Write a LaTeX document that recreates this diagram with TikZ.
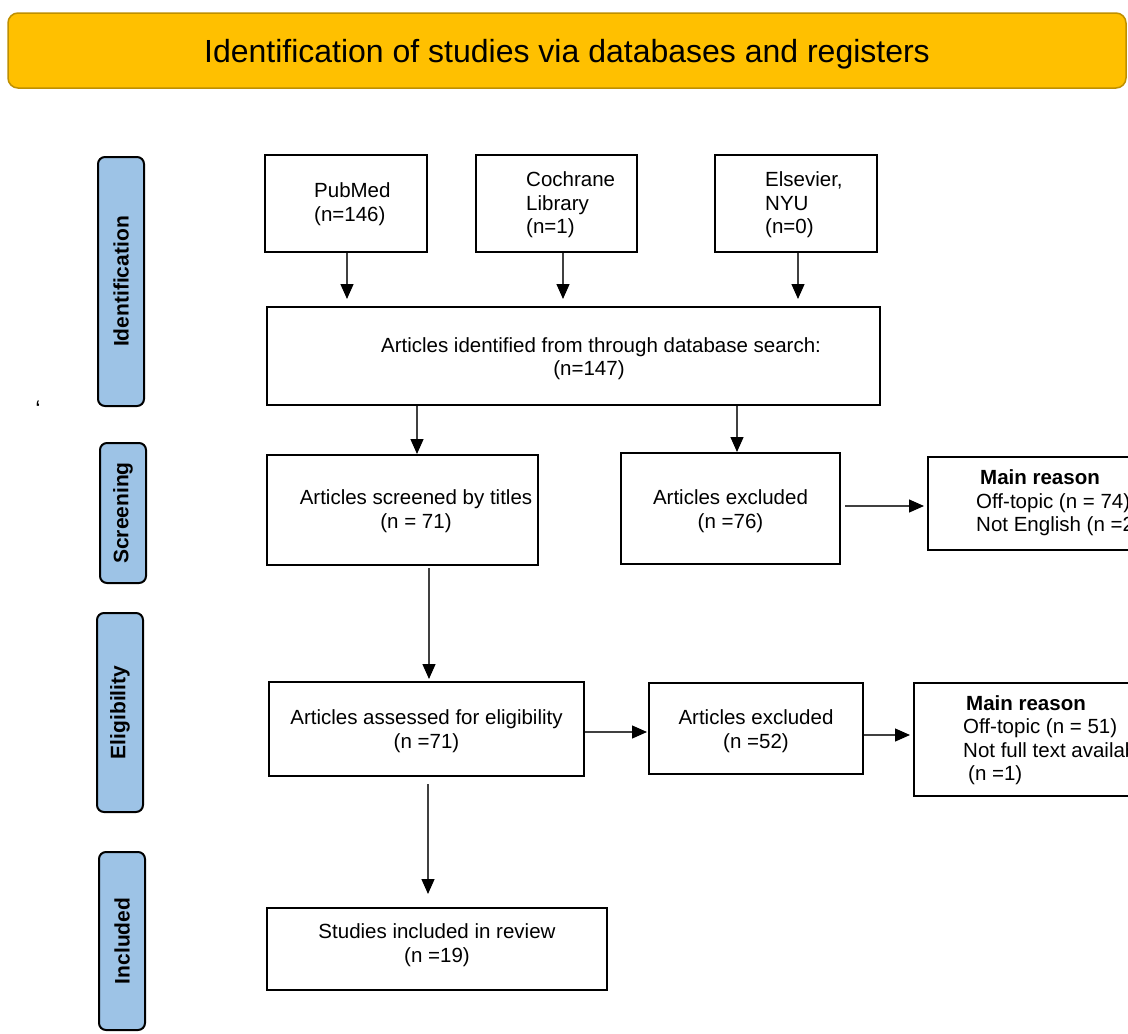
\documentclass[tikz,border=0pt]{standalone}
\usepackage{fontspec}
\setmainfont{Liberation Sans}
\usetikzlibrary{arrows.meta,calc}
\definecolor{sideblue}{HTML}{9DC3E6}
\definecolor{titlegold}{HTML}{FFC000}
\definecolor{titleedge}{HTML}{BF9000}
\definecolor{linegray}{HTML}{404040}
\begin{document}
\begin{tikzpicture}[x=1pt,y=-1pt,
 box/.style={draw=black,line width=2pt,inner sep=0pt},
 txt/.style={inner sep=0pt,align=center,font=\fontsize{20.5}{23.5}\selectfont},
 ltxt/.style={inner sep=0pt,align=left,anchor=west,font=\fontsize{20.5}{23.5}\selectfont},
 side/.style={draw=black,line width=2pt,fill=sideblue,rounded corners=7pt,minimum width=46pt,inner sep=0pt},
 sidetxt/.style={rotate=90,inner sep=0pt,font=\bfseries\fontsize{21}{24}\selectfont},
 arr/.style={draw=linegray,line width=1.3pt,-{Triangle[length=15pt,width=13pt,color=black]}},
]
\useasboundingbox (0,0) rectangle (1128,1034);
\fill[white] (0,0) rectangle (1128,1034);
\begin{scope}
\clip (0,0) rectangle (1128,1034);

% title
\node[draw=titleedge,line width=1.5pt,fill=titlegold,rounded corners=10pt,minimum width=1118pt,minimum height=75pt,inner sep=0pt] (title) at (567,50.5) {};
\node[inner sep=0pt,font=\fontsize{32}{36}\selectfont] (titleT) at (567,54) {Identification of studies via databases and registers};

% side bars
\node[side,minimum height=249pt] (sideId) at (121,281.5) {};
\node[sidetxt] (sideIdT) at (sideId) {Identification};
\node[side,minimum height=140pt] (sideSc) at (123,513) {};
\node[sidetxt] (sideScT) at (sideSc) {Screening};
\node[side,minimum height=199pt] (sideEl) at (120,712.5) {};
\node[sidetxt] (sideElT) at (sideEl) {Eligibility};
\node[side,minimum height=178pt] (sideIn) at (122,941) {};
\node[sidetxt] (sideInT) at (sideIn) {Included};

\node[inner sep=0pt,font=\fontsize{24}{26}\selectfont] (tick) at (38,409) {\symbol{96}};

% source boxes
\node[box,minimum width=162pt,minimum height=97pt] (pub) at (346,203.5) {};
\node[ltxt] (pubT) at (314,204) {PubMed\\(n=146)};
\node[box,minimum width=161pt,minimum height=97pt] (coch) at (556.5,203.5) {};
\node[ltxt] (cochT) at (526,205) {Cochrane\\Library\\(n=1)};
\node[box,minimum width=162pt,minimum height=97pt] (else) at (796,203.5) {};
\node[ltxt] (elseT) at (765,205) {Elsevier,\\NYU\\(n=0)};

% identified
\node[box,minimum width=613pt,minimum height=98pt] (ident) at (573.5,356) {};
\node[txt] (identT) at (601,358.5) {Articles identified from through database search:\\(n=147)\hspace*{24pt}};

% screening
\node[box,minimum width=271pt,minimum height=110pt] (scr) at (402.5,510) {};
\node[txt] (scrT) at (416,511) {Articles screened by titles\\(n = 71)};
\node[box,minimum width=219pt,minimum height=111pt] (ex1) at (730.5,508.5) {};
\node[txt] (ex1T) at (730.5,511) {Articles excluded\\(n =76)};
\node[box,minimum width=232pt,minimum height=93pt] (r1) at (1044,503.5) {};
\node[ltxt] (r1T) at (976,503) {\hspace*{4pt}\textbf{Main reason}\\Off-topic (n = 74)\\Not English (n =2)};

% eligibility
\node[box,minimum width=315pt,minimum height=94pt] (elig) at (426.5,729) {};
\node[txt] (eligT) at (426.5,731) {Articles assessed for eligibility\\(n =71)};
\node[box,minimum width=214pt,minimum height=91pt] (ex2) at (756,728.5) {};
\node[txt] (ex2T) at (756,731) {Articles excluded\\(n =52)};
\node[box,minimum width=246pt,minimum height=113pt] (r2) at (1037,739.5) {};
\node[ltxt] (r2T) at (963,740) {\hspace*{3pt}\textbf{Main reason}\\Off-topic (n = 51)\\Not full text available\\\hspace*{5pt}(n =1)};

% included
\node[box,minimum width=340pt,minimum height=82pt] (incl) at (437,949) {};
\node[txt] (inclT) at (437,945) {Studies included in review\\(n =19)};

% connectors
\draw[arr,shorten >=7pt] ([xshift=1pt]pub.south) -- ([xshift=1pt]pub.south |- ident.north);
\draw[arr,shorten >=7pt] ([xshift=6.5pt]coch.south) -- ([xshift=6.5pt]coch.south |- ident.north);
\draw[arr,shorten >=7pt] ([xshift=2pt]else.south) -- ([xshift=2pt]else.south |- ident.north);
\draw[arr] ([xshift=14.5pt]scr.north |- ident.south) -- ([xshift=14.5pt]scr.north);
\draw[arr] ([xshift=6.5pt]ex1.north |- ident.south) -- ([xshift=6.5pt]ex1.north);
\draw[arr,shorten <=4pt,shorten >=3pt] ($(ex1.east)+(0,-2.5)$) -- ($(ex1.east -| r1.west)+(0,-2.5)$);
\draw[arr,shorten <=2pt,shorten >=2pt] ([xshift=2.5pt]elig.north |- scr.south) -- ([xshift=2.5pt]elig.north);
\draw[arr,shorten >=1pt] ($(elig.east)+(0,3)$) -- ($(elig.east -| ex2.west)+(0,3)$);
\draw[arr,shorten >=3pt] ($(ex2.east)+(0,6.5)$) -- ($(ex2.east -| r2.west)+(0,6.5)$);
\draw[arr,shorten <=7pt,shorten >=13pt] ([xshift=1.5pt]elig.south) -- ([xshift=1.5pt]elig.south |- incl.north);
\end{scope}
\end{tikzpicture}
\end{document}
